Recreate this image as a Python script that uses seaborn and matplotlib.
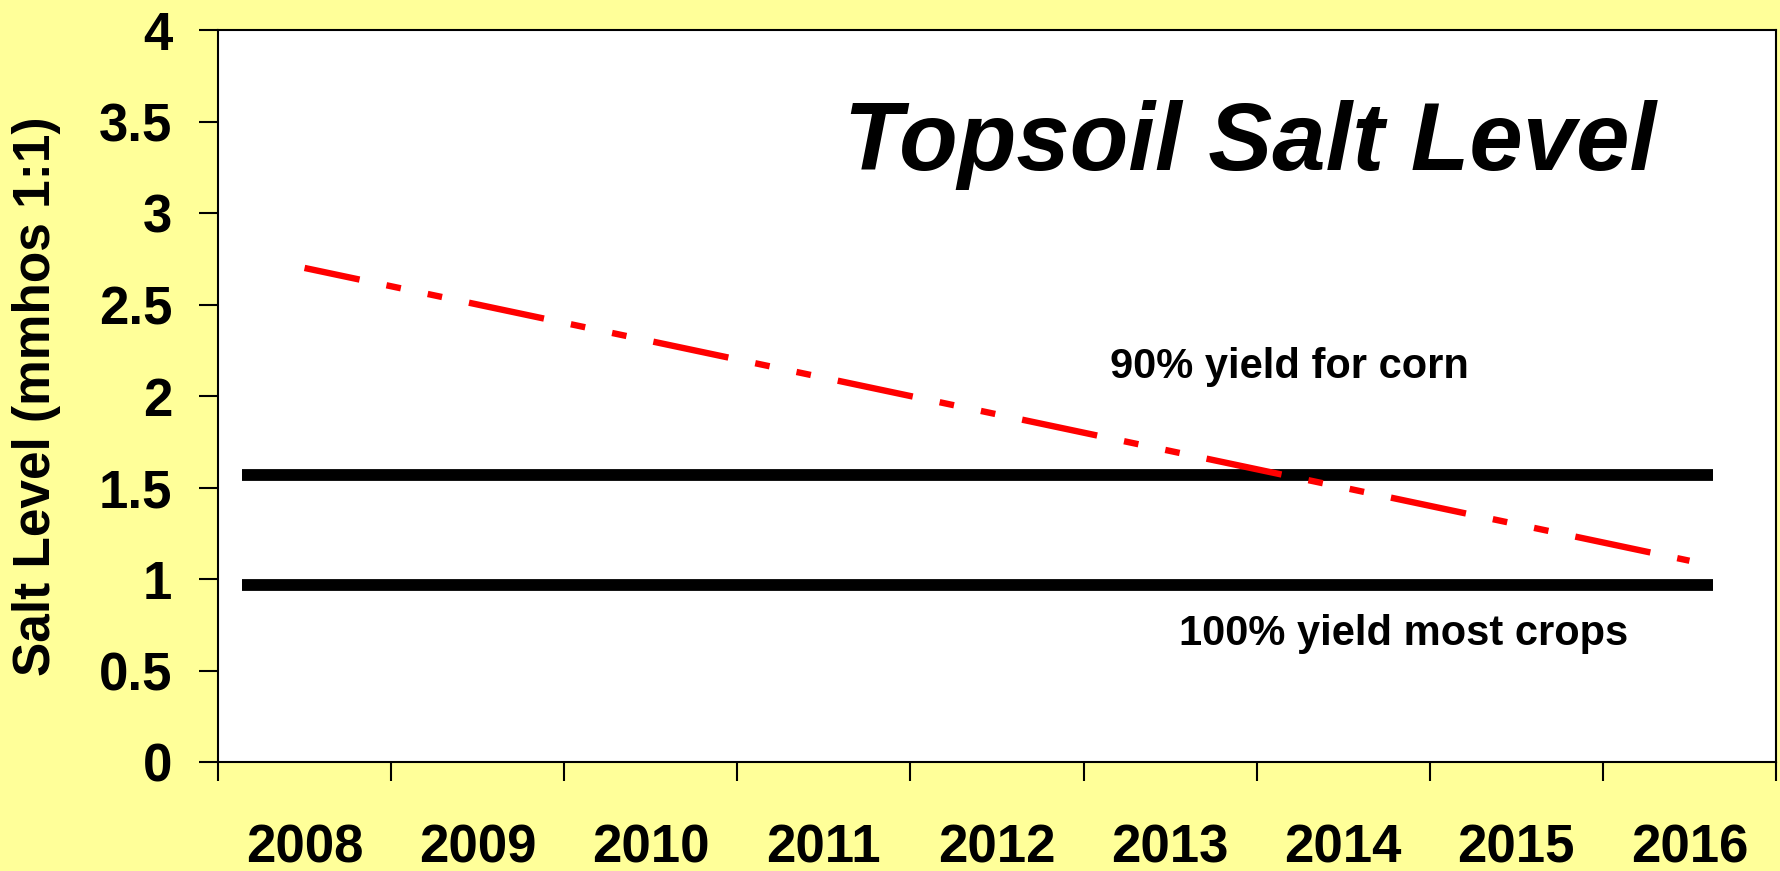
"""
Topsoil salt level chart, 2008-2016.
"""

import matplotlib
matplotlib.use('Agg')
import matplotlib.pyplot as plt
import numpy as np
import pandas as pd
import seaborn as sns

# data
years = ['2008', '2009', '2010', '2011', '2012', '2013', '2014', '2015', '2016']
salt_level = [2.7, 2.5, 2.3, 2.1, 1.9, 1.7, 1.5, 1.3, 1.1]
threshold_values = [1.57, 0.97]
threshold_labels = ['90% yield for corn', '100% yield most crops']
y_ticks = [0, 0.5, 1, 1.5, 2, 2.5, 3, 3.5, 4]
y_tick_labels = ['0', '0.5', '1', '1.5', '2', '2.5', '3', '3.5', '4']

BG = '#FFFF99'
RED = '#FF0000'

sns.set_style('ticks')
plt.rcParams['font.family'] = ['Liberation Sans', 'DejaVu Sans']
plt.rcParams['font.weight'] = 'bold'
for key in ['text.color', 'axes.labelcolor', 'xtick.color', 'ytick.color',
            'xtick.labelcolor', 'ytick.labelcolor']:
    plt.rcParams[key] = 'black'

df = pd.DataFrame({'year': years, 'salt': salt_level})

fig = plt.figure(figsize=(17.81, 8.71), dpi=100, facecolor=BG)
ax = fig.add_axes([0.1224, 0.1251, 0.8748, 0.8404])
ax.set_facecolor('white')

# threshold lines
for val in threshold_values:
    ax.axhline(val, xmin=0.0154, xmax=0.9596, color='black', lw=8.5,
               solid_capstyle='butt', zorder=2)

# salt trend (dash-dot-dot)
sns.lineplot(data=df, x='year', y='salt', ax=ax, color=RED, lw=4.6,
             sort=False, zorder=3)
ax.lines[-1].set_linestyle((3.2, (12, 4.3, 2.3, 4.3, 2.3, 4.3)))
ax.lines[-1].set_dash_capstyle('butt')

ax.set_xlim(-0.5, len(years) - 0.5)
ax.set_ylim(0, 4)

# y axis
ax.set_yticks(y_ticks)
ax.set_yticklabels(y_tick_labels, fontsize=38, fontweight='bold',
                   color='black')
ax.tick_params(axis='y', direction='out', length=14, width=1.5, pad=19,
               colors='black')

# x axis: ticks at category boundaries, labels at centers
ax.set_xticks(np.arange(-0.5, len(years), 1))
ax.set_xticklabels([''] * len(np.arange(-0.5, len(years), 1)))
ax.set_xticks(range(len(years)), minor=True)
ax.set_xticklabels(years, minor=True, fontsize=38, fontweight='bold',
                   color='black')
ax.tick_params(axis='x', which='major', direction='out', length=14,
               width=1.5, colors='black')
ax.tick_params(axis='x', which='minor', length=0, pad=44, colors='black')

ax.set_xlabel('')
ax.set_ylabel('Salt Level (mmhos 1:1)', fontsize=37, fontweight='bold',
              color='black')
ax.yaxis.set_label_coords(-0.1005, 0.5)

for side in ['left', 'right', 'top', 'bottom']:
    ax.spines[side].set_visible(True)
    ax.spines[side].set_color('black')
    ax.spines[side].set_linewidth(1.5)

# text annotations
ax.text(5.46, 3.235, 'Topsoil Salt Level', fontsize=69, fontweight='bold',
        fontstyle='italic', ha='center', va='baseline', color='black')
ax.text(5.69, 2.098, threshold_labels[0], fontsize=30, fontweight='bold',
        ha='center', va='baseline', color='black')
ax.text(6.35, 0.639, threshold_labels[1], fontsize=30, fontweight='bold',
        ha='center', va='baseline', color='black')

fig.savefig('out.png', dpi=100, facecolor=BG)
